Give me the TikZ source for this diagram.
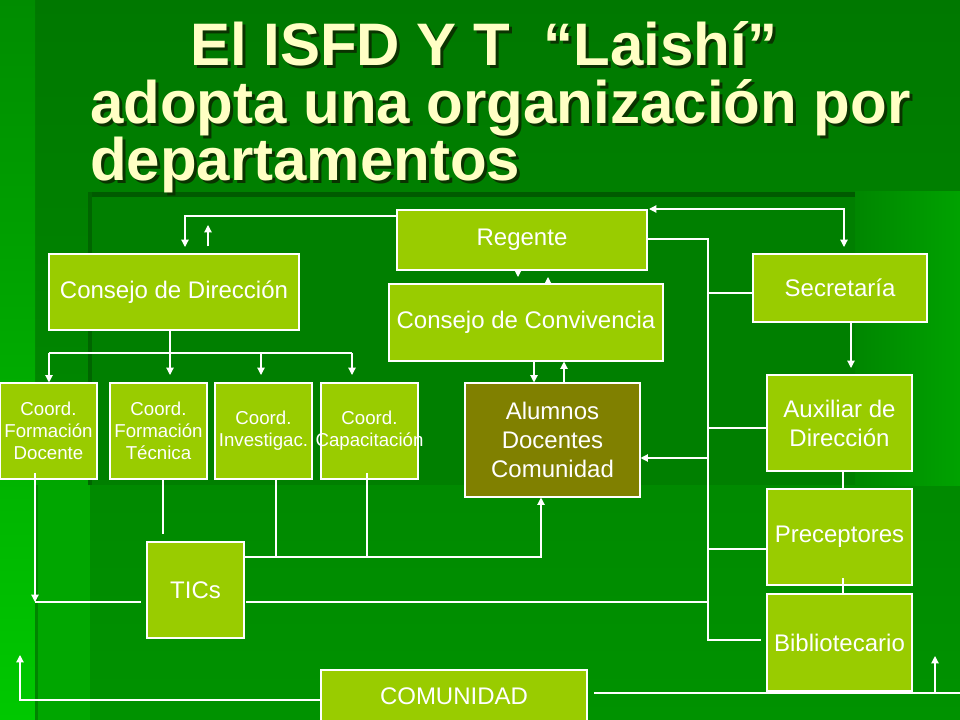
\documentclass[tikz,border=0pt]{standalone}
\usepackage{fontspec}
\setmainfont{Liberation Sans}
\usetikzlibrary{arrows.meta}
\definecolor{boxg}{HTML}{99CC00}
\definecolor{alumcol}{HTML}{808000}
\definecolor{ttl}{HTML}{FFFFC4}
\definecolor{ttlshadow}{HTML}{0A3300}
\definecolor{bgtop}{HTML}{007800}
\definecolor{bgbot}{HTML}{009200}
\definecolor{stripbot}{HTML}{00C800}
\definecolor{striptop}{HTML}{008C00}
\definecolor{bandcol}{HTML}{00A600}
\definecolor{darkrect}{HTML}{007F00}
\definecolor{darkedge}{HTML}{005A00}
\newcommand\shtxt[1]{\rlap{\kern2.25pt\raisebox{-2.25pt}{\color{ttlshadow}#1}}#1}
\begin{document}
\begin{tikzpicture}[x=0.75pt,y=-0.75pt,
  box/.style={draw=white,line width=0.8pt,fill=boxg,text=white,align=center,inner sep=0pt,
    font=\fontsize{18}{21.75}\selectfont},
  small/.style={font=\fontsize{14}{16.5}\selectfont},
  con/.style={draw=white,line width=0.9pt},
  arr/.style={con,-{Triangle[width=5.5pt,length=5.5pt]}},
  arrboth/.style={con,{Triangle[width=5.5pt,length=5.5pt]}-{Triangle[width=5.5pt,length=5.5pt]}},
  titlefont/.style={font=\fontsize{45}{43}\selectfont\bfseries,inner sep=0pt,anchor=base west,text=ttl}]
\useasboundingbox (0,0) rectangle (960,720);
% background
\shade[top color=bgtop,bottom color=bgbot] (0,0) rectangle (960,720);
\shade[top color=striptop,bottom color=stripbot] (0,0) rectangle (35,720);
\fill[bandcol] (35,480) rectangle (90,720);
\fill[bandcol!80!black] (35,485) rectangle (38,720);
\fill[darkrect] (90,192) rectangle (855,485);
\fill[darkedge] (88,192) rectangle (855,197);
\fill[darkedge!70!darkrect] (88,192) rectangle (92,485);
\shade[left color=bgbot!92!black,right color=bgbot!85!green] (855,192) rectangle (960,485);
% title
\node[titlefont] (t1) at (190,66) {\shtxt{El ISFD Y T~~“Laishí”}};
\node[titlefont] (t2) at (90,124) {\shtxt{adopta una organización por}};
\node[titlefont] (t3) at (90,181) {\shtxt{departamentos}};
% boxes
\node[box,minimum width=187.5pt,minimum height=45pt] (reg) at (522,240) {Regente};
\node[box,minimum width=187.5pt,minimum height=57pt] (cd) at (174,292) {Consejo de Dirección};
\node[box,minimum width=205.5pt,minimum height=57.75pt] (cc) at (526,322.5) {Consejo de Convivencia};
\node[box,minimum width=130.5pt,minimum height=51pt] (sec) at (840,288) {Secretaría};
\node[box,small,minimum width=72.75pt,minimum height=72pt] (c1) at (48.5,431) {Coord.\\Formación\\Docente};
\node[box,small,minimum width=72.75pt,minimum height=72pt] (c2) at (158.5,431) {Coord.\\Formación\\Técnica};
\node[box,small,minimum width=72.75pt,minimum height=72pt] (c3) at (263.5,431) {Coord.\\Investigac.};
\node[box,small,minimum width=72.75pt,minimum height=72pt] (c4) at (369.5,431) {Coord.\\\makebox[0pt]{Capacitación}};
\node[box,fill=alumcol,minimum width=131.25pt,minimum height=85.5pt] (alu) at (552.5,440) {Alumnos\\Docentes\\Comunidad};
\node[box,minimum width=108.75pt,minimum height=72pt] (aux) at (839.5,423) {Auxiliar de\\Dirección};
\node[box,minimum width=108.75pt,minimum height=72pt] (pre) at (839.5,537) {Preceptores};
\node[box,minimum width=108.75pt,minimum height=72.75pt] (bib) at (839.5,642.5) {Bibliotecario};
\node[box,minimum width=72.75pt,minimum height=72pt] (tic) at (195.5,590) {TICs};
\node[box,minimum width=199.5pt,minimum height=39pt] (com) at (454,696) {COMUNIDAD};
% junction coordinates
\coordinate (vtop) at (708,239);
\coordinate (vbot) at (708,640);
\coordinate (hcd) at (170,353);
\coordinate (upA) at (208,225);
\coordinate (ticl) at (35,602);
\coordinate (ticb) at (541,557);
\coordinate (lup) at (20,655);
\coordinate (rup) at (935,656);
\coordinate (redge) at (960,693);
% connectors
\draw[arr,shorten >=5.25pt] (reg.west |- 0,216) -| (185,254);
\draw[arr] ([xshift=25.5pt,yshift=5.25pt]cd.north) -- (upA);
\draw[arr] (cd.south -| hcd) -- (170,375);
\draw[con] (49,353) -- (352,353);
\draw[arr] (49,353) -- (c1.north -| 49,0);
\draw[arr] (261,353) -- (261,375);
\draw[arr] (352,353) -- (352,375);
\draw[arr] (reg.south -| 518,0) -- (518,277);
\draw[arr] (cc.north -| 548,0) -- (548,277);
\draw[arr] (cc.south -| 534,0) -- (alu.north -| 534,0);
\draw[arr] (alu.north -| 564,0) -- (cc.south -| 564,0);
\draw[arrboth] (649,209) -| (844,247);
\draw[con] (reg.east |- vtop) -- (vtop) -- (vbot) -- (761,640);
\draw[con] (708,293) -- (sec.west |- 0,293);
\draw[con] (708,428) -- (aux.west |- 0,428);
\draw[arr] (708,458) -- (alu.east |- 0,458);
\draw[con] (708,549) -- (pre.west |- 0,549);
\draw[con] (246,602) -- (708,602);
\draw[arr] (35,473) -- (ticl);
\draw[con] (ticl) -- (141,602);
\draw[con] (c2.south -| 163,0) -- (163,534);
\draw[con] (c3.south -| 276,0) -- (276,557);
\draw[con] (367,473) -- (367,557);
\draw[arr] (tic.east |- ticb) -- (ticb) -- (alu.south -| ticb);
\draw[arr] (sec.south -| 851,0) -- (851,368);
\draw[con] (aux.south -| 843,0) -- (pre.north -| 843,0);
\draw[con] (843,578) -- (bib.north -| 843,0);
\draw[arr] (com.west |- 0,700) -| (lup);
\draw[con] (594,693) -- (redge);
\draw[arr] (935,693) -- (rup);
\end{tikzpicture}
\end{document}
